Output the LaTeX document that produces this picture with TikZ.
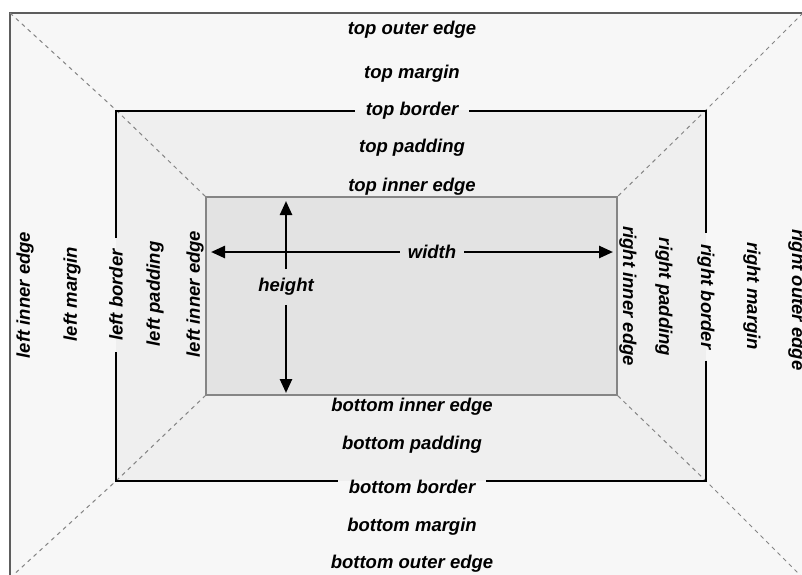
\documentclass[tikz,border=0pt]{standalone}
\usepackage{xcolor}
\usepackage{fontspec}
\setmainfont{Liberation Sans}
\usepackage{tikz}
\usetikzlibrary{arrows.meta}

\definecolor{marginfill}{HTML}{F7F7F7}
\definecolor{padfill}{HTML}{EFEFEF}
\definecolor{contentfill}{HTML}{E3E3E3}
\definecolor{edgegray}{HTML}{858585}

\tikzset{
    lbl/.style={font=\fontsize{18.5}{20}\selectfont\bfseries\itshape, inner sep=0pt},
    lblup/.style={lbl, rotate=90},
    lbldown/.style={lbl, rotate=-90},
    brdlbl/.style={inner xsep=11pt},
    brd/.style={line width=2.5pt},
    diag/.style={edgegray, line width=1pt, dash pattern=on 4pt off 4pt},
    dim/.style={line width=2.5pt, -{Triangle[length=14pt,width=12pt]}}
}

\begin{document}
\begin{tikzpicture}[x=1pt, y=-1pt]
            \useasboundingbox (0,0) rectangle (802,574);
            \clip (0,0) rectangle (802,574);

            % the three boxes
            \draw[fill=marginfill, draw=edgegray!70!black, line width=1.5pt] (10,13) rectangle (803,578);
            \fill[padfill] (116,110) rectangle (706,481);
            \draw[fill=contentfill, draw=edgegray, line width=2pt] (206,197) rectangle (617,395);

            % corners
            \coordinate (otl) at (10,13);
            \coordinate (otr) at (803,13);
            \coordinate (obr) at (803,578);
            \coordinate (obl) at (10,578);
            \coordinate (btl) at (116,110);
            \coordinate (btr) at (706,110);
            \coordinate (bbr) at (706,481);
            \coordinate (bbl) at (116,481);
            \coordinate (itl) at (206,197);
            \coordinate (itr) at (617,197);
            \coordinate (ibr) at (617,395);
            \coordinate (ibl) at (206,395);

            \draw[diag] (otl) -- (btl) -- (itl);
            \draw[diag] (otr) -- (btr) -- (itr);
            \draw[diag] (obr) -- (bbr) -- (ibr);
            \draw[diag] (obl) -- (bbl) -- (ibl);

            % top and bottom labels
            \node[lbl] (toe) at (412,30) {top outer edge};
            \node[lbl] (tm) at (412,74) {top margin};
            \node[lbl, brdlbl] (tb) at (412,111) {top border};
            \node[lbl] (tp) at (412,148) {top padding};
            \node[lbl] (tie) at (412,187) {top inner edge};

            \node[lbl] (bie) at (412,407) {bottom inner edge};
            \node[lbl] (bp) at (412,445) {bottom padding};
            \node[lbl, brdlbl] (bb) at (412,487) {bottom border};
            \node[lbl] (bm) at (412,527) {bottom margin};
            \node[lbl] (boe) at (412,564) {bottom outer edge};

            % left and right labels
            \node[lblup] (loe) at (25,295) {left inner edge};
            \node[lblup] (lm) at (72,294) {left margin};
            \node[lblup, brdlbl] (lb) at (116,295) {left border};
            \node[lblup] (lp) at (155,294) {left padding};
            \node[lblup] (lie) at (195,294) {left inner edge};

            \node[lbldown] (rie) at (628,296) {right inner edge};
            \node[lbldown] (rp) at (664,297) {right padding};
            \node[lbldown, brdlbl] (rb) at (706,297) {right border};
            \node[lbldown] (rm) at (752,296) {right margin};
            \node[lbldown] (roe) at (797,300) {right outer edge};

            % border, broken by its labels
            \draw[brd] (tb.east) -| (rb.west);
            \draw[brd] (rb.east) |- ([yshift=6pt]bb.east);
            \draw[brd] ([yshift=6pt]bb.west) -| (lb.west);
            \draw[brd] (lb.east) |- (tb.west);

            % width and height
            \coordinate (wl) at (211,252);
            \coordinate (wr) at (613,252);
            \coordinate (ht) at (286,201);
            \coordinate (hb) at (286,393);
            \node[lbl, inner xsep=8pt, inner ysep=0pt] (wd) at (432,252) {width};
            \node[lbl, inner xsep=0pt, inner ysep=9pt] (hg) at (286,287) {height};
            \draw[dim] (wd.west) -- (wl);
            \draw[dim] (wd.east) -- (wr);
            \draw[dim] (hg.north) -- (ht);
            \draw[dim] (hg.south) -- (hb);

\end{tikzpicture}
\end{document}
